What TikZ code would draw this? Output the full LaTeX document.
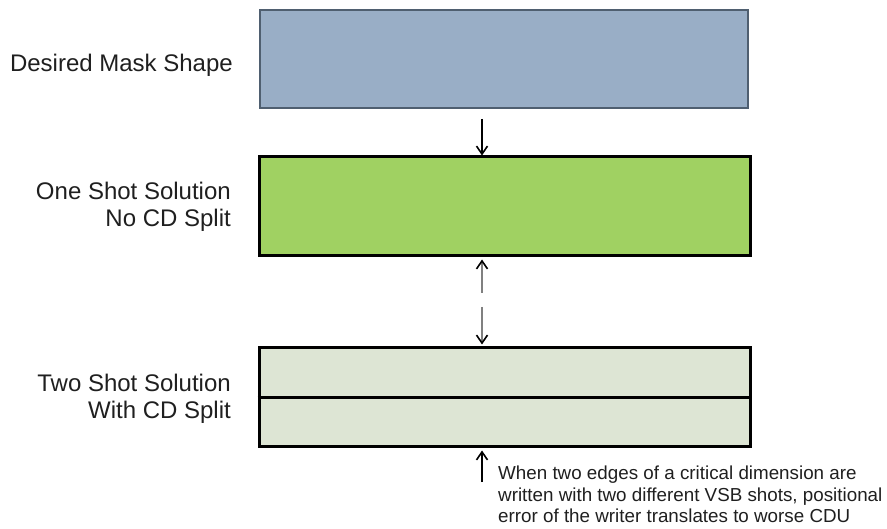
\documentclass[tikz,border=0pt]{standalone}
\usepackage{fontspec}
\setmainfont{Liberation Sans}
\usetikzlibrary{arrows.meta,calc}
\definecolor{maskblue}{HTML}{99AEC6}
\definecolor{maskedge}{HTML}{4F5F70}
\definecolor{shotgreen}{HTML}{A0D162}
\definecolor{splitgreen}{HTML}{DDE5D4}
\definecolor{arrgray}{HTML}{808080}
\begin{document}
\begin{tikzpicture}[x=1pt,y=-1pt,
  lbl/.style={inner sep=0pt,align=right,font=\fontsize{24}{27}\selectfont,text=black!88},
  note/.style={inner sep=0pt,align=left,font=\fontsize{18.8}{21.5}\selectfont,text=black!88},
  shape box/.style={rectangle,inner sep=0pt,minimum width=491pt,minimum height=99pt},
  arr/.style={line width=1.2pt,-{Straight Barb[length=8pt,width=11pt,line width=1.6pt,color=black]}},
  garr/.style={arr,draw=arrgray}]
\useasboundingbox (0,0) rectangle (887,529);
% boxes
\node[shape box,minimum width=488pt,minimum height=98pt,fill=maskblue,draw=maskedge,line width=1.5pt] (mask) at (504,59) {};
\node[shape box,fill=shotgreen,draw=black,line width=3pt] (one) at (504.5,206.5) {};
\node[shape box,fill=splitgreen,draw=black,line width=3pt] (two) at (504.5,397.5) {};
\draw[line width=3pt] (two.west) -- (two.east);
% labels
\node[lbl,anchor=base east] (l1) at (233,72) {Desired Mask Shape};
\node[lbl,anchor=north east] (l2) at (231,182) {One Shot Solution\\No CD Split};
\node[lbl,anchor=north east] (l3) at (231,374) {Two Shot Solution\\With CD Split};
\node[note,anchor=north west] (nt) at (498,466) {When two edges of a critical dimension are\\written with two different VSB shots, positional\\error of the writer translates to worse CDU};
% arrows
\coordinate (a1) at (482,119);
\draw[arr] (a1) -- (a1 |- one.north);
\coordinate (a2) at (482,293);
\draw[garr] (a2) -- ($(a2 |- one.south)+(0,2)$);
\coordinate (a3) at (482,307);
\draw[garr] (a3) -- ($(a3 |- two.north)+(0,-2)$);
\coordinate (a4) at (482,482);
\draw[arr] (a4) -- ($(a4 |- two.south)+(0,2)$);
\end{tikzpicture}
\end{document}
